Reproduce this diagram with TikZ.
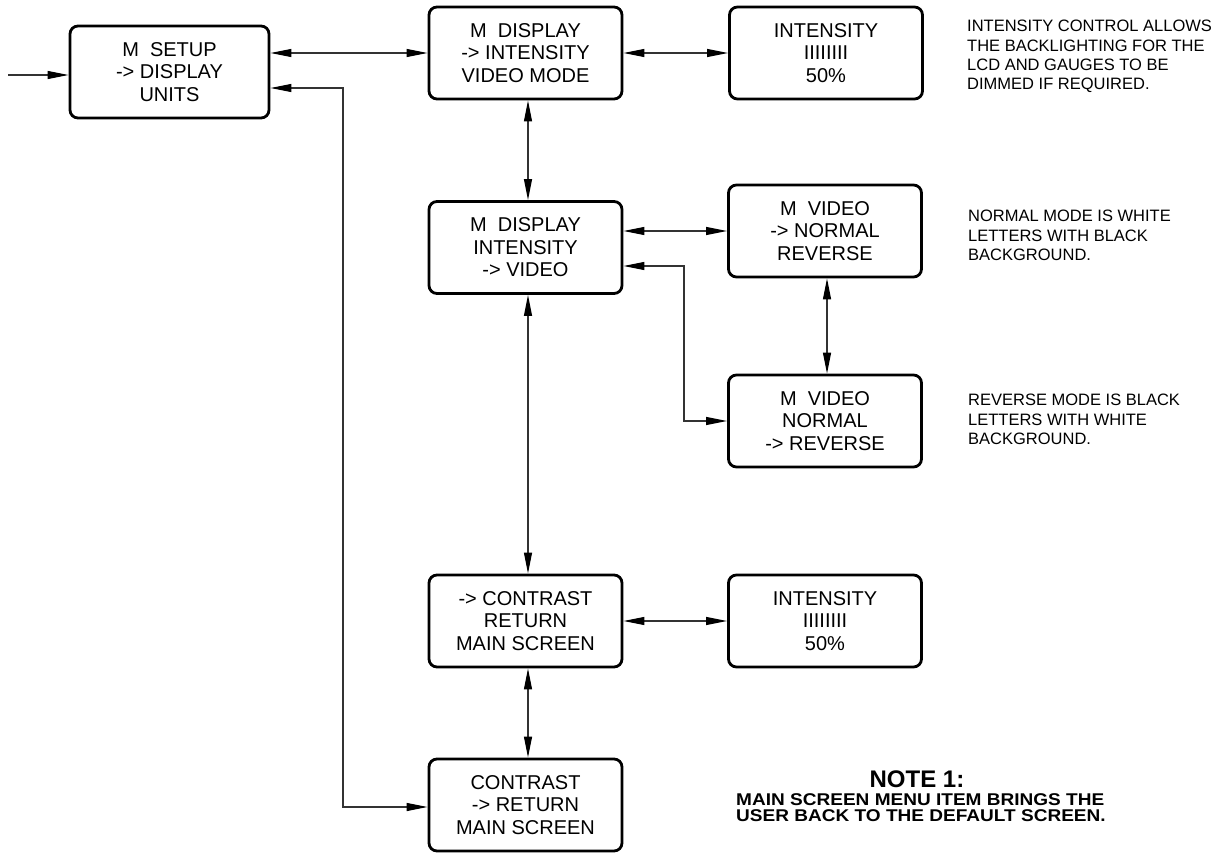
\documentclass[tikz,border=0pt]{standalone}
\usepackage{fontspec}
\setmainfont{Liberation Sans}
\newfontfamily\widefont[FakeStretch=1.12]{Liberation Sans}
\usetikzlibrary{arrows.meta}
\begin{document}
\begin{tikzpicture}[x=1pt,y=-1pt,
  box/.style={draw=black, line width=2.8pt, rounded corners=8pt, minimum width=193pt,
    minimum height=92pt, align=center, inner sep=0pt, font=\fontsize{20}{22.5}\selectfont},
  conn/.style={line width=1.2pt, draw=black!80,
    {Triangle[length=21pt,width=8pt,fill=black,color=black]}-{Triangle[length=21pt,width=8pt,fill=black,color=black]}},
  connone/.style={line width=1.2pt, draw=black!80,
    -{Triangle[length=21pt,width=8pt,fill=black,color=black]}},
  note/.style={align=left, inner sep=0pt, anchor=north west, font=\fontsize{16.5}{19.3}\selectfont},
  ]
\useasboundingbox (0,0) rectangle (1221,853);

\node[box, minimum width=199pt] (setup) at (169.5,72) {M\ \ SETUP\\-> DISPLAY\\UNITS};
\node[box] (disp1) at (525.5,53) {M\ \ DISPLAY\\-> INTENSITY\\VIDEO MODE};
\node[box] (int1) at (826,53) {INTENSITY\\IIIIIIII\\50\%};
\node[box] (disp2) at (525.5,247.5) {M\ \ DISPLAY\\INTENSITY\\-> VIDEO};
\node[box] (vid1) at (825,231) {M\ \ VIDEO\\-> NORMAL\\REVERSE};
\node[box] (vid2) at (825,421) {M\ \ VIDEO\\NORMAL\\-> REVERSE};
\node[box] (con1) at (525.5,621) {-> CONTRAST\\RETURN\\MAIN SCREEN};
\node[box] (int2) at (825,621) {INTENSITY\\IIIIIIII\\50\%};
\node[box] (con2) at (525.5,805) {CONTRAST\\-> RETURN\\MAIN SCREEN};

\node[note] (n1) at (967,20) {INTENSITY CONTROL ALLOWS\\THE BACKLIGHTING FOR THE\\LCD AND GAUGES TO BE\\DIMMED IF REQUIRED.};
\node[note] (n2) at (968,210) {NORMAL MODE IS WHITE\\LETTERS WITH BLACK\\BACKGROUND.};
\node[note] (n3) at (968,394) {REVERSE MODE IS BLACK\\LETTERS WITH WHITE\\BACKGROUND.};
\node[inner sep=0pt, font=\bfseries\fontsize{24}{24}\selectfont] (nt) at (917,779) {NOTE 1:};
\node[inner sep=0pt, anchor=north west, align=left, font=\widefont\bfseries\fontsize{17}{16}\selectfont] (nb) at (736,793) {MAIN SCREEN MENU ITEM BRINGS THE\\USER BACK TO THE DEFAULT SCREEN.};

\coordinate (in) at (8,75);
\draw[connone] (in) -- (setup.west |- in);

\draw[conn] (disp1.west -| setup.east) -- (disp1.west);
\draw[conn] (disp1.east) -- (int1.west |- disp1.east);
\draw[conn] (vid1.west -| disp2.east) -- (vid1.west);
\draw[conn] (con1.east) -- (int2.west |- con1.east);

\draw[conn] ([xshift=2.5pt]disp1.south) -- ([xshift=2.5pt]disp2.north);
\draw[conn] ([xshift=2.5pt]disp2.south) -- ([xshift=2.5pt]con1.north);
\draw[conn] ([xshift=2.5pt]con1.south) -- ([xshift=2.5pt]con2.north);
\draw[conn] ([xshift=2pt]vid1.south) -- ([xshift=2pt]vid2.north);

\coordinate (v1) at (684,266);
\coordinate (v2) at (684,421);
\draw[conn] (disp2.east |- v1) -- (v1) -- (v2) -- (vid2.west |- v2);

\coordinate (r1) at (343,88);
\coordinate (r2) at (343,807);
\draw[conn] (setup.east |- r1) -- (r1) -- (r2) -- (con2.west |- r2);
\end{tikzpicture}
\end{document}
